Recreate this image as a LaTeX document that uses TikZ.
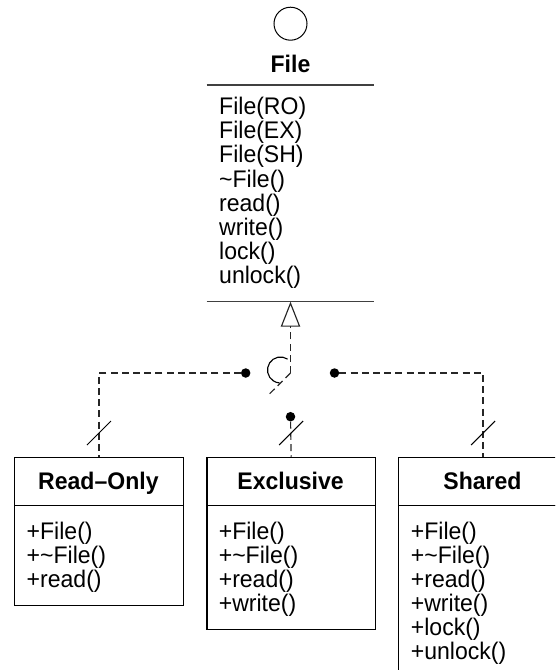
\documentclass[tikz,border=0pt]{standalone}
\usepackage{fontspec}
\setmainfont[FakeStretch=0.96]{Liberation Sans}
\usetikzlibrary{arrows.meta}
\begin{document}
\begin{tikzpicture}[x=1pt,y=-1pt,
  font=\fontsize{24pt}{24pt}\selectfont,
  cls/.style={draw=black, line width=1.1pt, fill=white, inner sep=0pt},
  titletext/.style={font=\fontsize{24pt}{24pt}\selectfont\bfseries, anchor=base, inner sep=0pt},
  member/.style={anchor=base west, inner sep=0pt},
  rule/.style={draw=black!75, line width=1.4pt},
  dep/.style={draw=black!85, line width=1.15pt, dash pattern=on 7pt off 4.2pt},
  slash/.style={draw=black, line width=1pt},
  dot/.style={circle, fill=black, inner sep=0pt, minimum size=9.5pt}]
\useasboundingbox (0,0) rectangle (555,670);
\clip (0,0) rectangle (555,670);

% ---- File interface class ----
\node[circle, draw=black, line width=1pt, minimum size=33pt, inner sep=0pt] (iface) at (290.5,23.7) {};
\node[titletext] (filet) at (290.5,72.7) {File};
\coordinate (fl1a) at (206.7,85);
\coordinate (fl1b) at (374,85);
\draw[rule] (fl1a) -- (fl1b);
\foreach \t [count=\i] in {File(RO),File(EX),File(SH),\textasciitilde File(),read(),write(),lock(),unlock()}
  \node[member] (fm\i) at (219,{114.5+(\i-1)*24.2}) {\t};
\coordinate (fl2a) at (206.7,301.7);
\coordinate (fl2b) at (374,301.7);
\draw[rule] (fl2a) -- (fl2b);
\coordinate (tip) at (290.5,301.7);

% ---- subclass boxes ----
\node[cls, minimum width=168.4pt, minimum height=48pt, anchor=north west] (ro) at (14.2,457) {};
\node[cls, minimum width=168.4pt, minimum height=99.5pt, anchor=north west] (robody) at (14.2,505) {};
\node[titletext] (rot) at (98.4,489.3) {Read–Only};
\foreach \t [count=\i] in {+File(),+\textasciitilde File(),+read()}
  \node[member] (rom\i) at (26.5,{539.5+(\i-1)*24}) {\t};

\node[cls, minimum width=168.4pt, minimum height=48pt, anchor=north west] (ex) at (206.4,457) {};
\node[cls, minimum width=168.4pt, minimum height=123.5pt, anchor=north west] (exbody) at (206.4,505) {};
\node[titletext] (ext) at (290.6,489.3) {Exclusive};
\foreach \t [count=\i] in {+File(),+\textasciitilde File(),+read(),+write()}
  \node[member] (exm\i) at (218.6,{539.5+(\i-1)*24}) {\t};

\node[cls, minimum width=168.4pt, minimum height=48pt, anchor=north west] (sh) at (398.3,457) {};
\node[cls, minimum width=168.4pt, minimum height=171.5pt, anchor=north west] (shbody) at (398.3,505) {};
\node[titletext] (sht) at (482.5,489.3) {Shared};
\foreach \t [count=\i] in {+File(),+\textasciitilde File(),+read(),+write(),+lock(),+unlock()}
  \node[member] (shm\i) at (410.7,{539.5+(\i-1)*24}) {\t};

% ---- switch / dependency structure ----
\coordinate (sw) at (290.5,373);
\coordinate (swend) at (266.7,396.7);
\draw[dep, -{Triangle[open, width=19.4pt, length=25pt]}] (sw) -- (tip);
\draw[dep] (sw) -- (swend);
\draw[line width=1.1pt] (280.5,370) ++(-57:13) arc[start angle=-57, end angle=-266, radius=13];

\node[dot] (dl) at (245.7,373) {};
\node[dot] (dr) at (334.5,373) {};
\node[dot] (dm) at (290.5,416.7) {};

\draw[dep] (dl) -| (ro.north);
\draw[dep] (dr) -| (sh.north);
\draw[dep] (dm) -- (ex.north);

\draw[slash] ([shift={(-12,-12)}]ro.north) -- ([shift={(12,-36)}]ro.north);
\draw[slash] ([shift={(-12,-12)}]ex.north) -- ([shift={(12,-36)}]ex.north);
\draw[slash] ([shift={(-12,-12)}]sh.north) -- ([shift={(12,-36)}]sh.north);
\end{tikzpicture}
\end{document}
